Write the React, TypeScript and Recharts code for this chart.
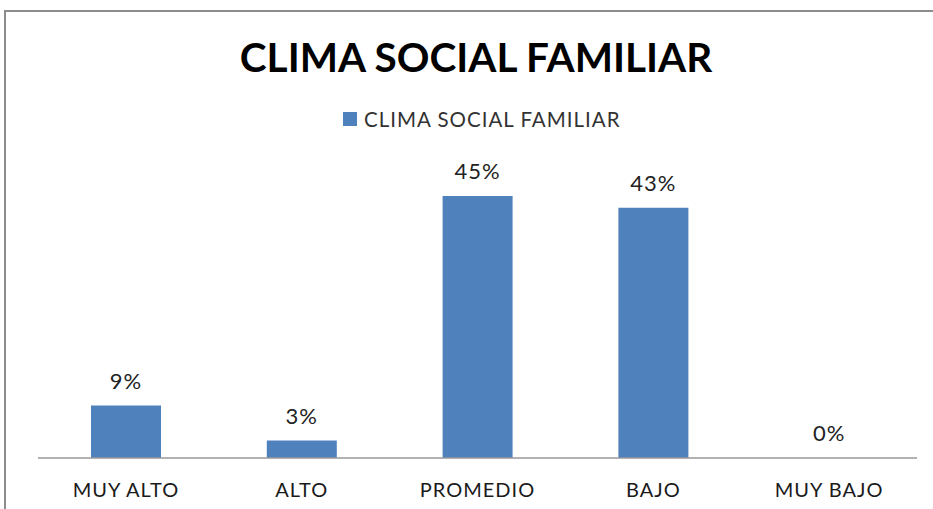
import { ComposedChart, Bar, Line, XAxis, YAxis, LabelList } from 'recharts'

const categories = ['MUY ALTO', 'ALTO', 'PROMEDIO', 'BAJO', 'MUY BAJO']
const percents = [9, 3, 45, 43, 0]
const seriesName = 'CLIMA SOCIAL FAMILIAR'
const chartTitle = 'CLIMA SOCIAL FAMILIAR'

const data = categories.map((name, i) => ({ name, value: percents[i] }))

const FONT = 'Lato, sans-serif'
const BLUE = '#4F81BD'

export default function App() {
  return (
    <div
      style={{
        position: 'fixed', left: 0, top: 0, width: 933, height: 509,
        overflow: 'hidden', background: '#fff', fontFamily: FONT,
      }}
    >
      {/* frame runs past the bottom/right edge in the reference */}
      <div
        style={{
          position: 'absolute', left: 4, top: 10, width: 1000, height: 600,
          border: '2px solid #8c8c8c', boxSizing: 'border-box',
        }}
      />
      <div
        style={{
          position: 'absolute', left: 0, top: 31, width: 952, textAlign: 'center',
          fontSize: 40.5, fontWeight: 700, color: '#000', lineHeight: '52px',
        }}
      >
        {chartTitle}
      </div>
      <div
        style={{
          position: 'absolute', left: 343, top: 106, display: 'flex',
          alignItems: 'center', fontSize: 20.5, letterSpacing: 1.0,
          color: '#333', lineHeight: '26px',
        }}
      >
        <span style={{ width: 14, height: 14, background: BLUE, marginRight: 7, display: 'inline-block' }} />
        {seriesName}
      </div>

      <ComposedChart
        width={933}
        height={509}
        data={data}
        margin={{ top: 167, right: 16, bottom: 11, left: 38 }}
        style={{ position: 'absolute', left: 0, top: 0 }}
      >
        <YAxis hide domain={[0, 50]} />
        <XAxis
          dataKey="name"
          height={40}
          axisLine={{ stroke: '#999', strokeWidth: 1.5 }}
          tickLine={false}
          tick={{ fill: '#1a1a1a', fontSize: 20, fontFamily: FONT, letterSpacing: 1 }}
          dy={17}
          interval={0}
        />
        <Bar dataKey="value" fill={BLUE} barSize={70} isAnimationActive={false} />
        {/* invisible series carrying the value labels, so 0% still shows */}
        <Line
          dataKey="value"
          stroke="none"
          dot={false}
          activeDot={false}
          legendType="none"
          isAnimationActive={false}
        >
          <LabelList
            dataKey="value"
            position="top"
            offset={17}
            formatter={(v: any) => `${v}%`}
            style={{ fill: '#222', fontSize: 22, fontFamily: FONT, letterSpacing: 1 }}
          />
        </Line>
      </ComposedChart>
    </div>
  )
}
